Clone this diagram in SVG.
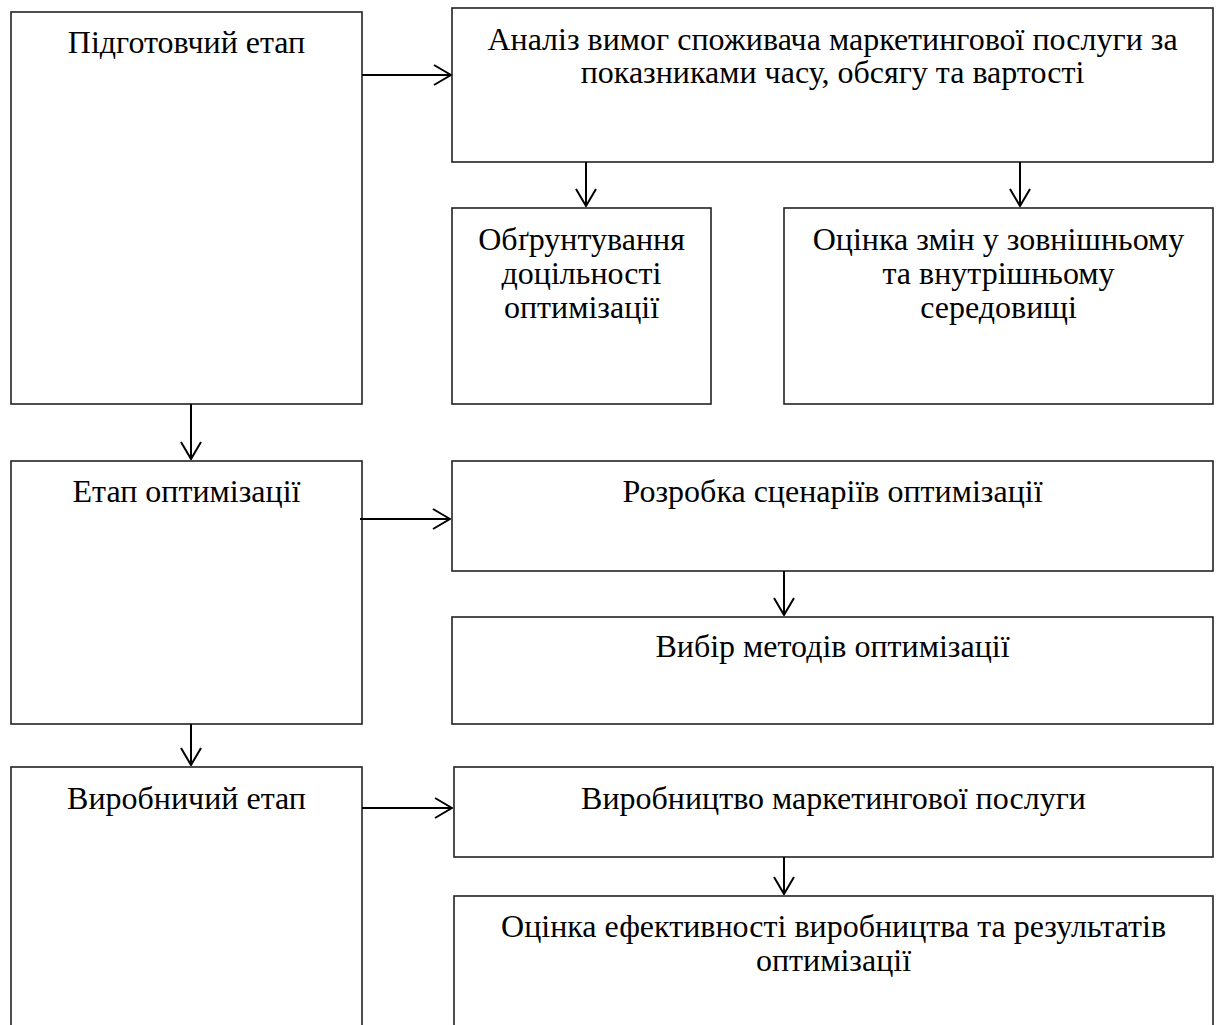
<svg xmlns="http://www.w3.org/2000/svg" width="1218" height="1025" viewBox="0 0 1218 1025">
<defs>
<style>
.box{fill:#fff;stroke:#222;stroke-width:1.6}
.t{font-family:"Liberation Serif","Times New Roman",serif;font-size:32px;fill:#000;text-anchor:middle}
.c{fill:none;stroke:#000;stroke-width:2}
</style>
<marker id="ah" markerUnits="userSpaceOnUse" viewBox="0 0 19 22" refX="18" refY="11" markerWidth="19" markerHeight="22" orient="auto">
<path d="M1,1 L18,11 L1,21" fill="none" stroke="#000" stroke-width="2"/>
</marker>
</defs>
<rect width="1218" height="1025" fill="#fff"/>
<g id="n1"><rect class="box" x="11" y="12" width="351" height="392"/><text class="t" x="186.5" y="53">Підготовчий етап</text></g>
<g id="n2"><rect class="box" x="452" y="8" width="761" height="154"/><text class="t" x="832.5" y="50">Аналіз вимог споживача маркетингової послуги за</text><text class="t" x="832.5" y="83">показниками часу, обсягу та вартості</text></g>
<g id="n3"><rect class="box" x="452" y="208" width="259" height="196"/><text class="t" x="581.5" y="250">Обґрунтування</text><text class="t" x="581.5" y="284">доцільності</text><text class="t" x="581.5" y="318">оптимізації</text></g>
<g id="n4"><rect class="box" x="784" y="208" width="429" height="196"/><text class="t" x="998.5" y="250">Оцінка змін у зовнішньому</text><text class="t" x="998.5" y="284">та внутрішньому</text><text class="t" x="998.5" y="318">середовищі</text></g>
<g id="n5"><rect class="box" x="11" y="461" width="351" height="263"/><text class="t" x="186.5" y="502">Етап оптимізації</text></g>
<g id="n6"><rect class="box" x="452" y="461" width="761" height="110"/><text class="t" x="832.5" y="502">Розробка сценаріїв оптимізації</text></g>
<g id="n7"><rect class="box" x="452" y="617" width="761" height="107"/><text class="t" x="832.5" y="657">Вибір методів оптимізації</text></g>
<g id="n8"><rect class="box" x="11" y="767" width="351" height="300"/><text class="t" x="186.5" y="809">Виробничий етап</text></g>
<g id="n9"><rect class="box" x="454" y="767" width="759" height="90"/><text class="t" x="833.5" y="809">Виробництво маркетингової послуги</text></g>
<g id="n10"><rect class="box" x="454" y="896" width="759" height="200"/><text class="t" x="833.5" y="937">Оцінка ефективності виробництва та результатів</text><text class="t" x="833.5" y="971">оптимізації</text></g>
<g id="connectors">
<path class="c" d="M362,75 H451" marker-end="url(#ah)"/>
<path class="c" d="M586,162 V206" marker-end="url(#ah)"/>
<path class="c" d="M1020,162 V206" marker-end="url(#ah)"/>
<path class="c" d="M191,404 V459" marker-end="url(#ah)"/>
<path class="c" d="M360,519 H450" marker-end="url(#ah)"/>
<path class="c" d="M784,571 V615" marker-end="url(#ah)"/>
<path class="c" d="M191,724 V765" marker-end="url(#ah)"/>
<path class="c" d="M362,808 H452" marker-end="url(#ah)"/>
<path class="c" d="M784,857 V894" marker-end="url(#ah)"/>
</g>
</svg>
